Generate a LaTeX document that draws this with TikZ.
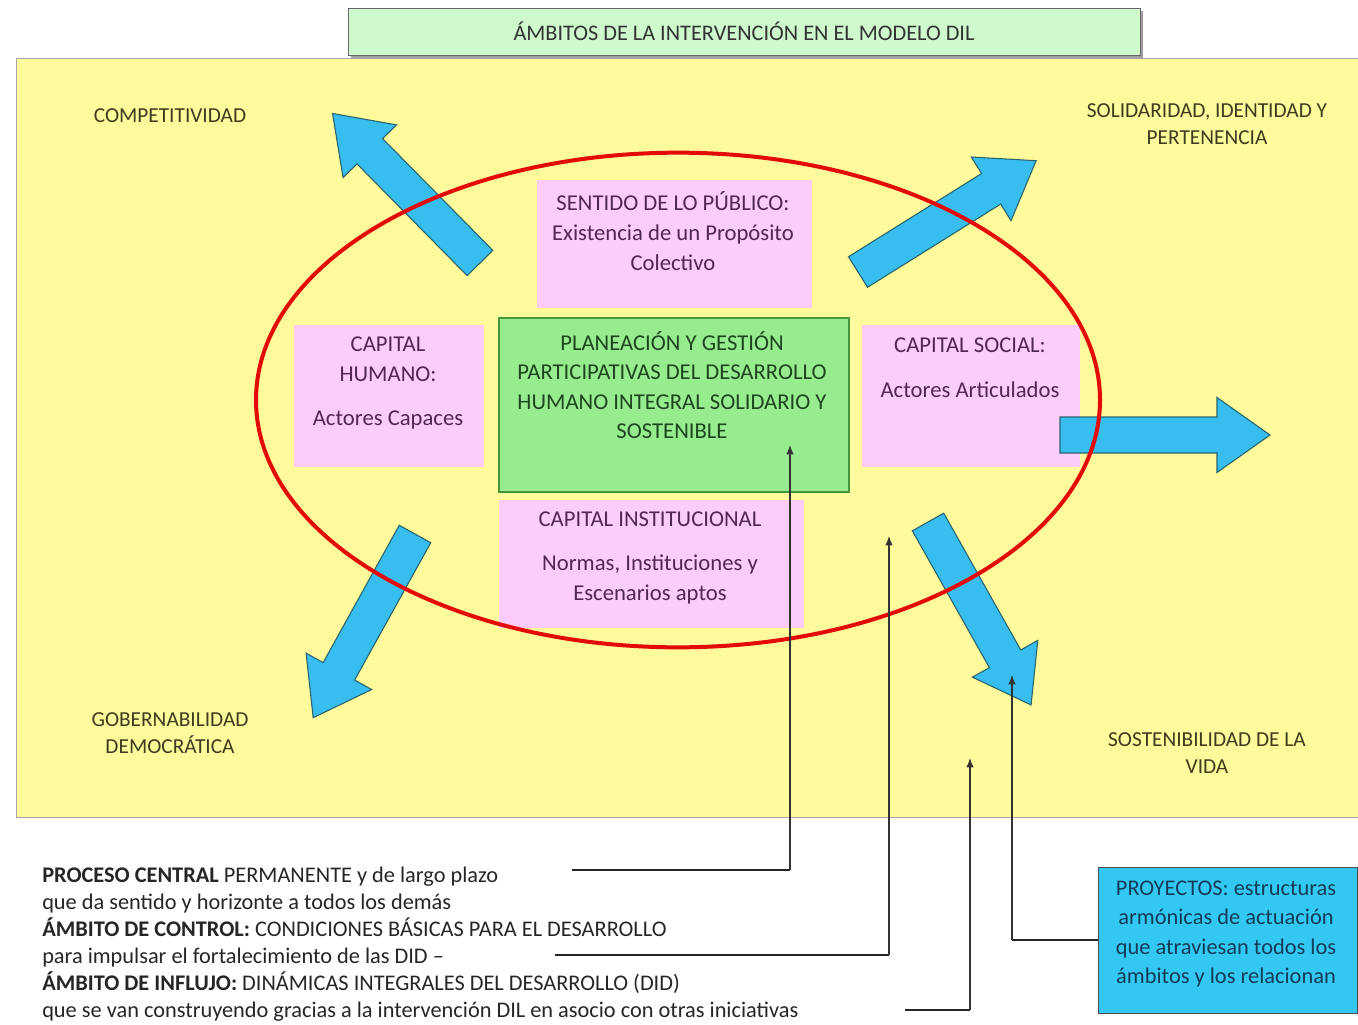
\documentclass[tikz,border=0pt]{standalone}
\usepackage{fontspec}
\setmainfont{Carlito}
\usetikzlibrary{arrows.meta}
\definecolor{bgyellow}{RGB}{255,250,155}
\definecolor{boxpink}{RGB}{252,204,250}
\definecolor{boxgreen}{RGB}{150,236,142}
\definecolor{greenline}{RGB}{70,150,60}
\definecolor{titlegreen}{RGB}{206,250,206}
\definecolor{arrblue}{RGB}{55,190,238}
\definecolor{arredge}{RGB}{40,100,110}
\definecolor{proyblue}{RGB}{50,200,242}
\definecolor{pinktext}{RGB}{80,40,85}
\definecolor{greentext}{RGB}{30,70,30}
\definecolor{labeltext}{RGB}{60,60,30}
\definecolor{proytext}{RGB}{20,60,90}
\definecolor{ellred}{RGB}{228,10,10}
\tikzset{
  txt/.style={font=\fontsize{17}{22.5}\selectfont, align=center, inner sep=0pt},
  pinkbox/.style={fill=boxpink, draw=none, inner sep=0pt},
  pinktxt/.style={txt, text=pinktext},
  lbl/.style={txt, text=labeltext, font=\fontsize{16}{20.25}\selectfont},
  fatarr/.style={fill=arrblue, draw=arredge, line width=0.8pt, line join=miter},
  fatarrow/.pic={\draw[fatarr] (0,-18)--(157,-18)--(157,-37.5)--(210,0)--(157,37.5)--(157,18)--(0,18)--cycle;},
  heavy/.style={black!85, line width=1.8pt},
  lightline/.style={black!80, line width=0.8pt, -{Latex[length=7pt,width=5.5pt]}},
  bottomtxt/.style={font=\fontsize{16.75}{20}\selectfont, text=black!85, anchor=base west, inner sep=0pt}
}
\begin{document}
\begin{tikzpicture}[x=0.75pt,y=-0.75pt]
\useasboundingbox (0,0) rectangle (1358,1024);
\fill[white] (0,0) rectangle (1358,1024);

% title
\fill[gray!75] (351,11) rectangle (1143,58);
\node[fill=titlegreen, draw=gray!80!black, line width=0.6pt, minimum width=594pt, minimum height=35.25pt, inner sep=0pt,
      font=\fontsize{16.7}{20}\selectfont, text=black!80] (title) at (744,31.5) {ÁMBITOS DE LA INTERVENCIÓN EN EL MODELO DIL};

% yellow background
\node[fill=bgyellow, draw=gray!70, line width=0.6pt, minimum width=1006.5pt, minimum height=569.25pt, inner sep=0pt] (bg) at (687,437.5) {};

% pink and green boxes
\node[pinkbox, minimum width=206.25pt, minimum height=96pt] (sentido) at (674.5,244) {};
\node[pinkbox, minimum width=142.5pt, minimum height=106.5pt] (humano) at (389,396) {};
\node[pinkbox, minimum width=163.5pt, minimum height=106.5pt] (social) at (971,396) {};
\node[pinkbox, minimum width=228.75pt, minimum height=96pt] (instit) at (651.5,564) {};
\node[fill=boxgreen, draw=greenline, line width=0.8pt, minimum width=262.5pt, minimum height=130.5pt, inner sep=0pt] (central) at (674,405) {};

\node[pinktxt] (sentidoT) at (673,231) {SENTIDO DE LO PÚBLICO:\\Existencia de un Propósito\\Colectivo};
\node[pinktxt] (humanoT) at (388,383) {CAPITAL\\HUMANO:\\[11pt]Actores Capaces};
\node[pinktxt] (socialT) at (970,368) {CAPITAL SOCIAL:\\[11pt]Actores Articulados};
\node[pinktxt] (institT) at (650,558) {CAPITAL INSTITUCIONAL\\[11pt]Normas, Instituciones y\\Escenarios aptos};
\node[txt, text=greentext, font=\fontsize{17}{22}\selectfont] (centralT) at (672,385) {PLANEACIÓN Y GESTIÓN\\PARTICIPATIVAS DEL DESARROLLO\\HUMANO INTEGRAL SOLIDARIO Y\\SOSTENIBLE};

% corner labels
\node[lbl] (comp) at (170,116) {COMPETITIVIDAD};
\node[lbl] (solid) at (1207,124) {SOLIDARIDAD, IDENTIDAD Y\\PERTENENCIA};
\node[lbl] (gober) at (170,733) {GOBERNABILIDAD\\DEMOCRÁTICA};
\node[lbl] (soste) at (1207,753) {SOSTENIBILIDAD DE LA\\VIDA};

% big blue arrows
\pic[rotate=134.6] at (480,263) {fatarrow};
\pic[rotate=32.0] at (858,272) {fatarrow};
\pic[rotate=0] at (1060,435) {fatarrow};
\pic[rotate=-119] at (415,534) {fatarrow};
\pic[rotate=-60.6] at (928,522) {fatarrow};

% red ellipse
\draw[ellred, line width=3pt] (678,400) ellipse [x radius=316.5pt, y radius=185.5pt];

% proyectos box
\node[fill=proyblue, draw=gray!60!black, line width=0.6pt, minimum width=194.25pt, minimum height=109.5pt, inner sep=0pt] (proy) at (1227.5,940) {};
\node[txt, text=proytext, font=\fontsize{16.8}{22.2}\selectfont] (proyT) at (1226,934) {PROYECTOS: estructuras\\armónicas de actuación\\que atraviesan todos los\\ámbitos y los relacionan};

% bottom text
\node[bottomtxt] (b1) at (42,882) {\textbf{PROCESO CENTRAL} PERMANENTE y de largo plazo};
\node[bottomtxt] (b2) at (42,909) {que da sentido y horizonte a todos los demás};
\node[bottomtxt] (b3) at (42,936) {\textbf{ÁMBITO DE CONTROL:} CONDICIONES BÁSICAS PARA EL DESARROLLO};
\node[bottomtxt] (b4) at (42,963) {para impulsar el fortalecimiento de las DID –};
\node[bottomtxt] (b5) at (42,990) {\textbf{ÁMBITO DE INFLUJO:} DINÁMICAS INTEGRALES DEL DESARROLLO (DID)};
\node[bottomtxt] (b6) at (42,1017) {que se van construyendo gracias a la intervención DIL en asocio con otras iniciativas};

% connectors
\coordinate (c1s) at (572,870); \coordinate (c1k) at (790,870); \coordinate (c1t) at (790,445);
\coordinate (c2s) at (555,955); \coordinate (c2k) at (889,955); \coordinate (c2t) at (889,536);
\coordinate (c3s) at (905,1010); \coordinate (c3k) at (970,1010); \coordinate (c3t) at (970,758);
\coordinate (c4k) at (1012,940); \coordinate (c4t) at (1012,675);
\draw[heavy] (c1s) -- (c1k);
\draw[lightline] (c1k) -- (c1t);
\draw[heavy] (c2s) -- (c2k);
\draw[lightline] (c2k) -- (c2t);
\draw[heavy] (c3s) -- (c3k);
\draw[lightline] (c3k) -- (c3t);
\draw[heavy] (proy.west |- c4k) -- (c4k);
\draw[lightline] (c4k) -- (c4t);
\end{tikzpicture}
\end{document}
